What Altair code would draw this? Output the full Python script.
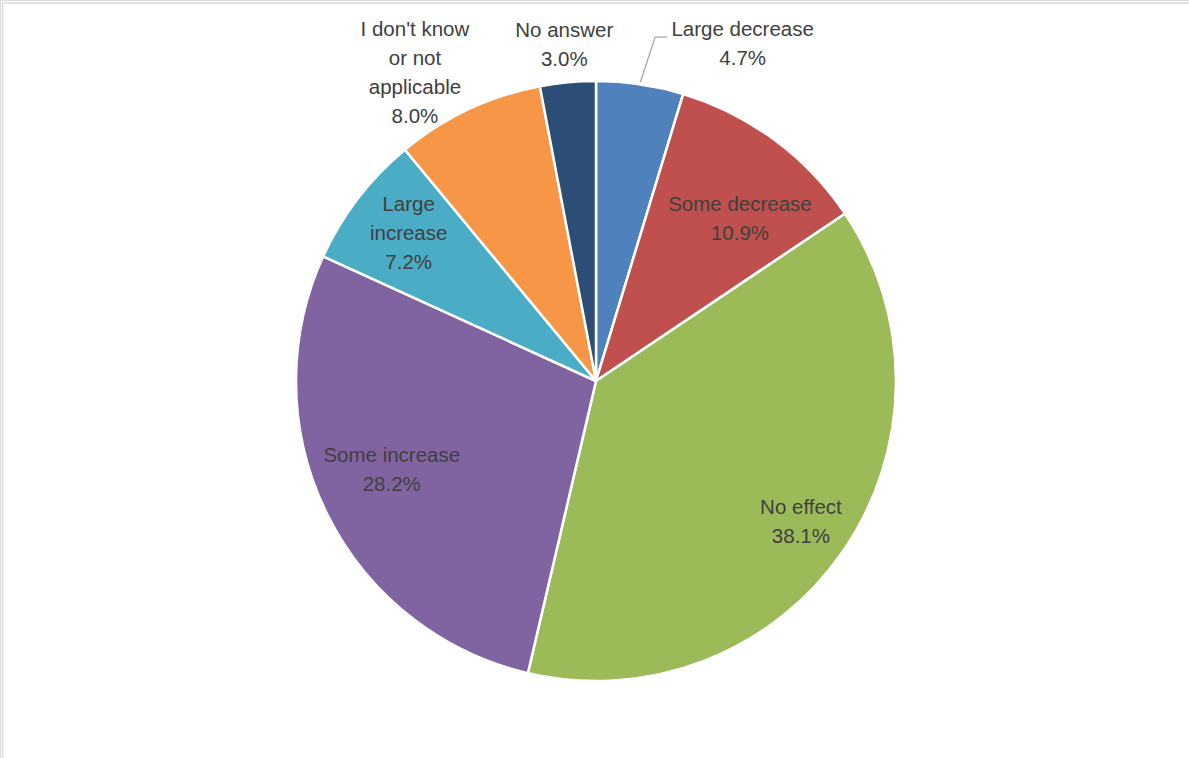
import math
import altair as alt
import pandas as pd

categories = ["Large decrease", "Some decrease", "No effect", "Some increase",
              "Large increase", "I don't know or not applicable", "No answer"]
values = [4.7, 10.9, 38.1, 28.2, 7.2, 8.0, 3.0]
label_texts = ["Large decrease\n4.7%", "Some decrease\n10.9%", "No effect\n38.1%",
               "Some increase\n28.2%", "Large\nincrease\n7.2%",
               "I don't know\nor not\napplicable\n8.0%", "No answer\n3.0%"]
colors = ["#4F81BD", "#C0504D", "#9BBB59", "#8064A2", "#4BACC6", "#F79646", "#2C4D75"]

# layout (not data)
CX, CY, R = 596, 381, 300
LINE_H = 29
label_angle_offset = [15.1, 5.3, 0.0, 2.5, 0.6, -5.3, 0.0]
label_radius = [367, 216, 249, 223, 238, 357, 337]

total = sum(values)
cum = 0.0
mids = []
for v in values:
    mids.append((cum + v / 2) / total * 360.0)
    cum += v

df = pd.DataFrame({"category": categories, "value": values, "order": list(range(len(values)))})

lx, ly = [], []
for m, off, r, t in zip(mids, label_angle_offset, label_radius, label_texts):
    a = math.radians(m + off)
    n = t.count("\n") + 1
    lx.append(CX + r * math.sin(a))
    ly.append(CY - r * math.cos(a) - (n - 1) * LINE_H / 2)
labels = pd.DataFrame({"text": label_texts, "lx": lx, "ly": ly})

# leader line for the first slice
a0 = math.radians(mids[0])
a1 = math.radians(mids[0] + 1.3)
p0 = (CX + 302 * math.sin(a0), CY - 302 * math.cos(a0))
p1 = (CX + 349 * math.sin(a1), CY - 349 * math.cos(a1))
p2 = (p1[0] + 12, p1[1])
leader = pd.DataFrame({"x": [p0[0], p1[0], p2[0]], "y": [p0[1], p1[1], p2[1]], "i": [0, 1, 2]})

pie = alt.Chart(df).mark_arc(outerRadius=R, stroke="white", strokeWidth=2.5).encode(
    theta=alt.Theta("value:Q", stack=True),
    order=alt.Order("order:Q"),
    color=alt.Color("category:N", scale=alt.Scale(domain=categories, range=colors), legend=None),
    x=alt.value(CX),
    y=alt.value(CY),
)

text = alt.Chart(labels).mark_text(
    lineBreak="\n", font="Liberation Sans", fontSize=20.5, lineHeight=LINE_H,
    color="#404040", align="center", baseline="middle"
).encode(
    x=alt.X("lx:Q", scale=None),
    y=alt.Y("ly:Q", scale=None),
    text="text:N",
)

lead = alt.Chart(leader).mark_line(color="#A6A6A6", strokeWidth=1.3).encode(
    x=alt.X("x:Q", scale=None),
    y=alt.Y("y:Q", scale=None),
    order="i:Q",
)

frame = alt.Chart(pd.DataFrame({"a": [0]})).mark_rect(
    fill=None, stroke="#D9D9D9", strokeWidth=1.5
).encode(x=alt.value(2.5), x2=alt.value(1400), y=alt.value(3), y2=alt.value(1000))

chart = alt.layer(frame, pie, lead, text).properties(
    width=1189, height=758, padding=0, autosize=alt.AutoSizeParams(type="none")
).configure_view(stroke=None).configure(background="white")

chart.save("out.html", embed_options={"renderer": "svg", "actions": False})
